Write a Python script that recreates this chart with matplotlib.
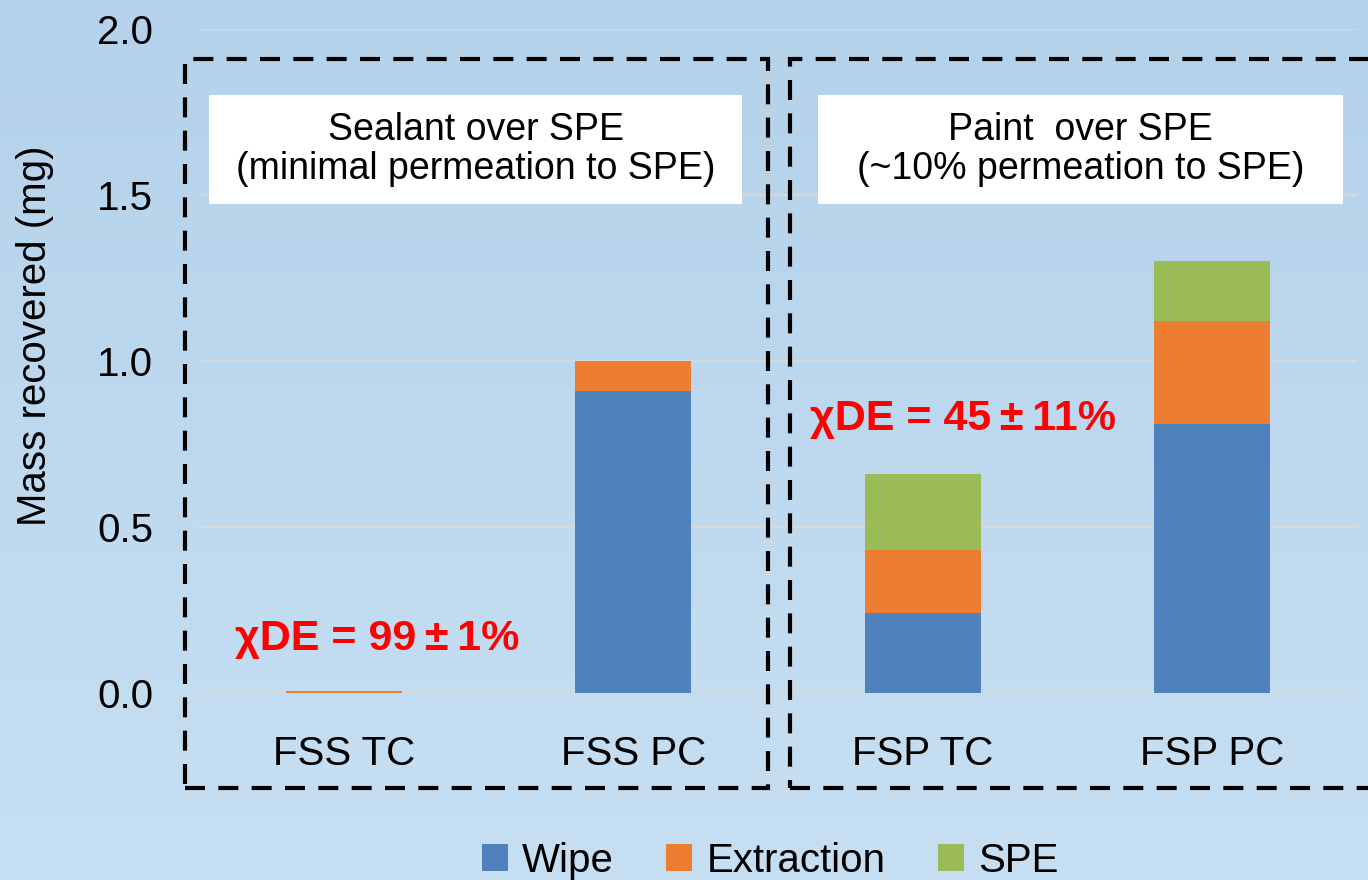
import numpy as np
import matplotlib
matplotlib.use("Agg")
import matplotlib.pyplot as plt
from matplotlib.patches import Rectangle

plt.rcParams["font.family"] = ["Liberation Sans", "DejaVu Sans"]

# data
categories = ["FSS TC", "FSS PC", "FSP TC", "FSP PC"]
wipe = [0.0, 0.91, 0.24, 0.81]
extraction = [0.006, 0.09, 0.19, 0.31]
spe = [0.0, 0.0, 0.23, 0.18]
series_names = ["Wipe", "Extraction", "SPE"]
y_ticks = [0.0, 0.5, 1.0, 1.5, 2.0]
group_titles = ["Sealant over SPE\n(minimal permeation to SPE)",
                "Paint  over SPE\n(~10% permeation to SPE)"]
de_notes = ["\u03c7DE = 99\u2009\u00b1\u20091%", "\u03c7DE = 45\u2009\u00b1\u200911%"]

colors = ["#4F81BD", "#ED7D31", "#9BBB59"]
W, H = 1368, 880


def fx(px):
    return px / W


def fy(py):
    # pixel from top -> figure fraction from bottom
    return 1 - py / H


fig = plt.figure(figsize=(W / 100, H / 100), dpi=100)

# gradient background
bg = fig.add_axes([0, 0, 1, 1], zorder=-10)
top = np.array([180, 210, 235]) / 255
bot = np.array([199, 223, 242]) / 255
t = np.linspace(0, 1, 200)[:, None]
grad = (top[None, :] * (1 - t) + bot[None, :] * t)[:, None, :]
bg.imshow(grad, aspect="auto", extent=[0, 1, 0, 1])
bg.axis("off")

ax = fig.add_axes([fx(199), fy(693), fx(1357 - 199), (693 - 29) / H])
ax.patch.set_alpha(0)

x = np.arange(len(categories))
series = [wipe, extraction, spe]
bottom = np.zeros(len(categories))
for vals, name, c in zip(series, series_names, colors):
    ax.bar(x, vals, width=0.4, bottom=bottom, color=c, label=name, zorder=3)
    bottom += np.array(vals)

ax.set_xlim(-0.5, len(categories) - 0.5)
ax.set_ylim(0, 2.0)
ax.set_yticks(y_ticks)
ax.set_yticklabels([f"{v:.1f}" for v in y_ticks])
ax.set_xticks(x)
ax.set_xticklabels(categories)
ax.yaxis.grid(True, color="#D9D9D9", linewidth=1.5, zorder=0)
ax.set_axisbelow(True)
for s in ax.spines.values():
    s.set_visible(False)
ax.tick_params(axis="y", length=0, pad=33, labelsize=29)
ax.tick_params(axis="x", length=0, pad=30, labelsize=29)

fig.text(fx(35), fy(336), "Mass recovered (mg)", rotation=90,
         ha="center", va="center", fontsize=29)

# dashed group frames
dash = (0, (4.8, 3.2))
frames = [(185, 59, 768, 788), (790, 59, 1400, 788)]
for x0, y0, x1, y1 in frames:
    fig.patches.append(Rectangle((fx(x0), fy(y1)), fx(x1 - x0), (y1 - y0) / H,
                                 transform=fig.transFigure, fill=False,
                                 edgecolor="black", linewidth=3,
                                 linestyle=dash, zorder=5))

# white title boxes
title_boxes = [(209, 95, 742, 204), (818, 95, 1343, 204)]
for (x0, y0, x1, y1), txt in zip(title_boxes, group_titles):
    fig.patches.append(Rectangle((fx(x0), fy(y1)), fx(x1 - x0), (y1 - y0) / H,
                                 transform=fig.transFigure, facecolor="white",
                                 edgecolor="none", zorder=4))
    fig.text(fx((x0 + x1) / 2), fy((y0 + y1) / 2), txt, ha="center",
             va="center", fontsize=27, linespacing=1.1, zorder=6)

# red DE annotations
note_pos = [(235, 650), (810, 430)]
for (px, py), txt in zip(note_pos, de_notes):
    fig.text(fx(px), fy(py), txt, color="#FF0000", fontsize=31,
             fontweight="bold", ha="left", va="baseline", zorder=6)

leg = fig.legend(loc="center", bbox_to_anchor=(fx(770), fy(861)), ncol=3,
                 frameon=False, fontsize=29, handlelength=0.65,
                 handleheight=0.65, handletextpad=0.35, columnspacing=1.3)

fig.savefig("out.png", dpi=100)
